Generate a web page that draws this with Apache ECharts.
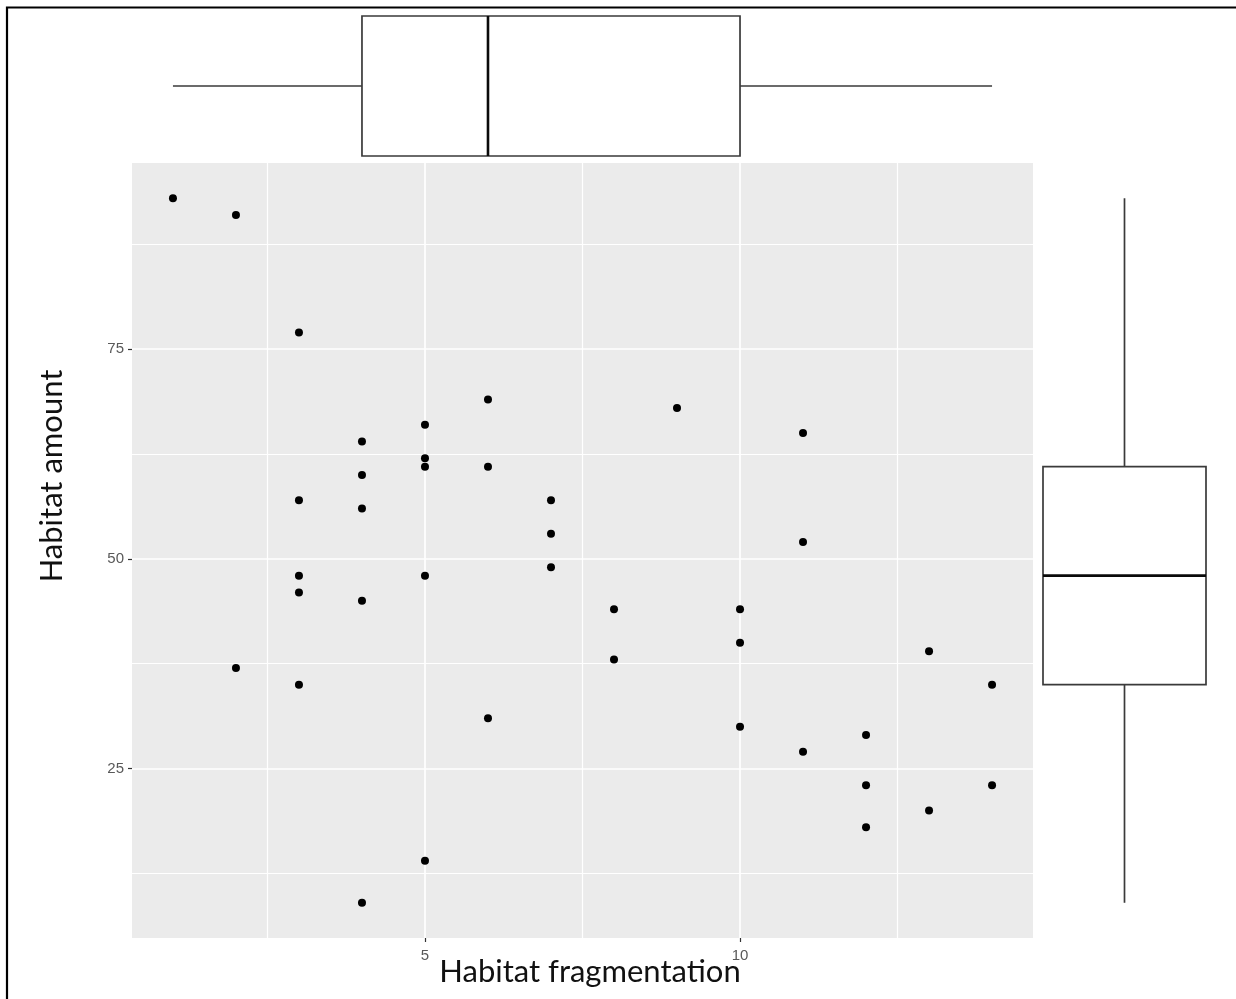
<!DOCTYPE html>
<html>
<head>
<meta charset="utf-8">
<script src="https://cdn.jsdelivr.net/npm/echarts@6/dist/echarts.min.js"></script>
<style>
html,body{margin:0;padding:0;background:#fff;}
#chart{width:1236px;height:999px;}
</style>
</head>
<body>
<div id="chart"></div>
<script>
// Habitat fragmentation (x) vs habitat amount (y)
const fragmentation = [1,2,2,3,3,3,3,3,4,4,4,4,4,5,5,5,5,5,6,6,6,7,7,7,8,8,9,10,10,10,11,11,11,12,12,12,13,13,14,14];
const amount =        [93,91,37,77,57,48,46,35,64,60,56,45,9,66,62,61,48,14,69,61,31,57,53,49,44,38,68,44,40,30,65,52,27,29,23,18,39,20,35,23];

// Marginal boxplot statistics: [min, Q1, median, Q3, max]
const fragBox = [1, 4, 6, 10, 14];
const amountBox = [9, 35, 48, 61, 93];

// Axis ticks
const xTicks = [5, 10];
const xMinorTicks = [2.5, 7.5, 12.5];
const yTicks = [25, 50, 75];
const yMinorTicks = [12.5, 37.5, 62.5, 87.5];

const xLabel = 'Habitat fragmentation';
const yLabel = 'Habitat amount';

const xRange = [0.35, 14.65];
const yRange = [4.8, 97.2];

const chart = echarts.init(document.getElementById('chart'), null, {renderer: 'canvas'});

const points = fragmentation.map((f, i) => [f, amount[i]]);

const tickFont = {fontFamily: 'Liberation Sans, Arial, sans-serif', fontSize: 15, color: '#595959'};
const boxLine = '#3a3a3a';

function gridLineData(axisKey, major, minor) {
  const d = [];
  minor.forEach(v => d.push({[axisKey]: v, lineStyle: {width: 1.2}}));
  major.forEach(v => d.push({[axisKey]: v, lineStyle: {width: 1.7}}));
  return d;
}

function renderHBox(params, api) {
  const vals = [api.value(1), api.value(2), api.value(3), api.value(4), api.value(5)];
  const c = api.coord([vals[0], api.value(0)]);
  const cy = c[1];
  const band = api.size([0, 1])[1];
  const top = cy - band / 2, bot = cy + band / 2;
  const p = vals.map(v => api.coord([v, api.value(0)])[0]);
  return {
    type: 'group',
    children: [
      {type: 'line', shape: {x1: p[0], y1: cy, x2: p[1], y2: cy}, style: {stroke: boxLine, lineWidth: 1.7}},
      {type: 'line', shape: {x1: p[3], y1: cy, x2: p[4], y2: cy}, style: {stroke: boxLine, lineWidth: 1.7}},
      {type: 'rect', shape: {x: p[1], y: top, width: p[3] - p[1], height: bot - top}, style: {fill: '#fff', stroke: boxLine, lineWidth: 1.7}},
      {type: 'line', shape: {x1: p[2], y1: top, x2: p[2], y2: bot}, style: {stroke: '#0a0a0a', lineWidth: 2.6}}
    ]
  };
}

function renderVBox(params, api) {
  const vals = [api.value(1), api.value(2), api.value(3), api.value(4), api.value(5)];
  const c = api.coord([api.value(0), vals[0]]);
  const cx = c[0];
  const band = api.size([1, 0])[0];
  const left = cx - band / 2, right = cx + band / 2;
  const p = vals.map(v => api.coord([api.value(0), v])[1]);
  return {
    type: 'group',
    children: [
      {type: 'line', shape: {x1: cx, y1: p[0], x2: cx, y2: p[1]}, style: {stroke: boxLine, lineWidth: 1.7}},
      {type: 'line', shape: {x1: cx, y1: p[3], x2: cx, y2: p[4]}, style: {stroke: boxLine, lineWidth: 1.7}},
      {type: 'rect', shape: {x: left, y: p[3], width: right - left, height: p[1] - p[3]}, style: {fill: '#fff', stroke: boxLine, lineWidth: 1.7}},
      {type: 'line', shape: {x1: left, y1: p[2], x2: right, y2: p[2]}, style: {stroke: '#0a0a0a', lineWidth: 2.6}}
    ]
  };
}

const option = {
  animation: false,
  backgroundColor: '#ffffff',
  grid: [
    {left: 132, top: 163, width: 901, height: 775, show: true, backgroundColor: '#ebebeb', borderWidth: 0},
    {left: 132, top: 16, width: 901, height: 140, show: false},
    {left: 1043, top: 163, width: 163, height: 775, show: false}
  ],
  xAxis: [
    {
      gridIndex: 0, type: 'value', min: xRange[0], max: xRange[1],
      axisLine: {show: false},
      axisTick: {show: true, length: 4, customValues: xTicks, lineStyle: {color: '#333', width: 1.2}},
      axisLabel: Object.assign({show: true, margin: 10, customValues: xTicks}, tickFont),
      splitLine: {show: false}
    },
    {gridIndex: 1, type: 'value', min: xRange[0], max: xRange[1], show: false},
    {gridIndex: 2, type: 'category', data: ['amount'], show: false, boundaryGap: true}
  ],
  yAxis: [
    {
      gridIndex: 0, type: 'value', min: yRange[0], max: yRange[1],
      axisLine: {show: false},
      axisTick: {show: true, length: 4, customValues: yTicks, lineStyle: {color: '#333', width: 1.2}},
      axisLabel: Object.assign({show: true, margin: 8, customValues: yTicks}, tickFont),
      splitLine: {show: false}
    },
    {gridIndex: 1, type: 'category', data: ['fragmentation'], show: false, boundaryGap: true},
    {gridIndex: 2, type: 'value', min: yRange[0], max: yRange[1], show: false}
  ],
  series: [
    {
      type: 'scatter', xAxisIndex: 0, yAxisIndex: 0, data: [], z: 1, silent: true,
      markLine: {
        silent: true, symbol: ['none', 'none'], label: {show: false},
        lineStyle: {color: '#ffffff', type: 'solid'},
        animation: false,
        data: gridLineData('xAxis', xTicks, xMinorTicks).concat(gridLineData('yAxis', yTicks, yMinorTicks))
      }
    },
    {
      type: 'scatter', xAxisIndex: 0, yAxisIndex: 0, data: points, z: 5,
      symbol: 'circle', symbolSize: 8,
      itemStyle: {color: '#000000', opacity: 1}
    },
    {
      type: 'custom', xAxisIndex: 1, yAxisIndex: 1,
      data: [[0].concat(fragBox)],
      encode: {y: 0, x: [1, 2, 3, 4, 5]},
      renderItem: renderHBox
    },
    {
      type: 'custom', xAxisIndex: 2, yAxisIndex: 2,
      data: [[0].concat(amountBox)],
      encode: {x: 0, y: [1, 2, 3, 4, 5]},
      renderItem: renderVBox
    }
  ],
  graphic: [
    {
      type: 'rect', silent: true, z: 100,
      shape: {x: 7, y: 7.5, width: 1300, height: 1100},
      style: {fill: 'none', stroke: '#000', lineWidth: 2.2}
    },
    {
      type: 'text', silent: true, z: 100,
      x: 590, y: 972,
      style: {text: xLabel, font: '31px Lato, "Open Sans", sans-serif', fill: '#111111', textAlign: 'center', textVerticalAlign: 'middle'}
    },
    {
      type: 'text', silent: true, z: 100,
      x: 52, y: 476, rotation: Math.PI / 2,
      style: {text: yLabel, font: '31px Lato, "Open Sans", sans-serif', fill: '#111111', textAlign: 'center', textVerticalAlign: 'middle'}
    }
  ]
};

chart.setOption(option);
</script>
</body>
</html>
